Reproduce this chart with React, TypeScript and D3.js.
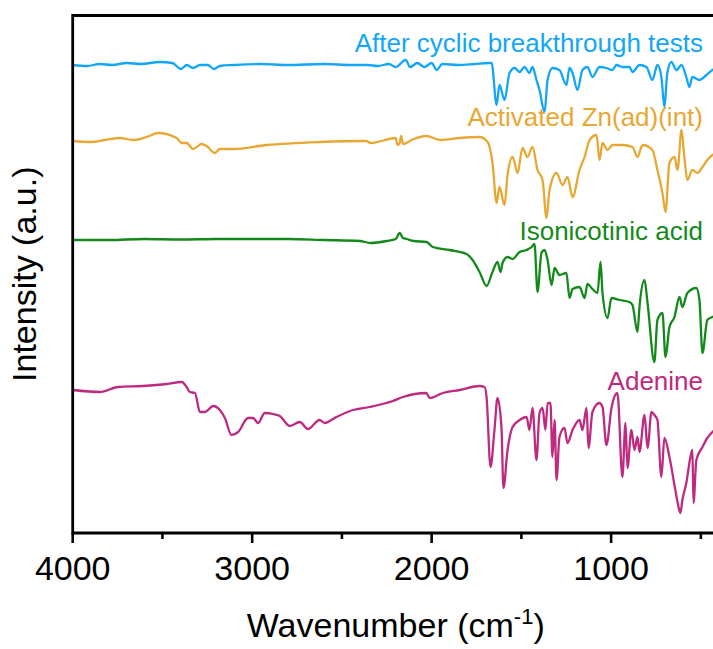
import React from "react";
import * as d3 from "d3";

// Wavenumber (cm-1) and intensity (a.u., stacked)
const afterWn = [4000, 3920, 3850, 3780, 3700, 3620, 3514, 3444, 3397, 3364, 3330, 3291, 3247, 3213, 3180, 3100, 2957, 2800, 2600, 2450, 2356, 2300, 2239, 2200, 2145, 2120, 2080, 2040, 2000, 1972, 1940, 1850, 1760, 1683, 1666, 1638, 1622, 1594, 1566, 1538, 1510, 1482, 1455, 1438, 1416, 1399, 1371, 1354, 1327, 1288, 1249, 1232, 1215, 1187, 1160, 1132, 1104, 1065, 1026, 993, 970, 937, 898, 881, 842, 803, 770, 742, 720, 703, 687, 664, 636, 608, 581, 564, 547, 508, 469, 436, 400];
const afterVal = [468, 467, 469, 468, 470, 469, 471, 470, 464, 468, 465, 468, 468, 464, 467, 468, 469, 468, 469, 468, 468, 467, 469, 466, 473, 466, 470, 466, 470, 463, 469, 468, 469, 470, 470, 428, 448, 433, 460, 465, 461, 466, 460, 466, 453, 443, 421, 453, 465, 463, 448, 465, 460, 443, 463, 466, 456, 466, 465, 463, 468, 466, 466, 461, 468, 466, 453, 468, 456, 426, 460, 471, 463, 468, 456, 446, 456, 453, 458, 463, 466];

const activatedWn = [4000, 3900, 3820, 3737, 3660, 3588, 3524, 3421, 3393, 3365, 3329, 3282, 3254, 3208, 3180, 3106, 2920, 2624, 2364, 2340, 2200, 2190, 2178, 2170, 2160, 2100, 2030, 1950, 1844, 1733, 1688, 1661, 1638, 1622, 1594, 1577, 1549, 1521, 1494, 1466, 1438, 1410, 1382, 1360, 1343, 1304, 1271, 1243, 1215, 1176, 1148, 1120, 1081, 1065, 1048, 1020, 993, 937, 881, 853, 825, 770, 742, 714, 697, 675, 647, 630, 608, 592, 575, 547, 519, 491, 464, 436, 400];
const activatedVal = [392, 391, 393, 395, 393, 396, 400, 395, 390, 390, 384, 389, 387, 380, 384, 384, 388, 391, 392, 390, 395, 388, 390, 397, 389, 394, 397, 393, 395, 396, 391, 370, 330, 346, 328, 358, 376, 360, 385, 376, 386, 363, 353, 315, 343, 360, 348, 356, 336, 363, 376, 393, 398, 373, 390, 383, 388, 388, 386, 376, 388, 383, 363, 340, 321, 370, 376, 363, 403, 376, 353, 363, 360, 366, 373, 378, 381];

const isoWn = [4000, 3800, 3600, 3400, 3200, 3000, 2800, 2600, 2400, 2340, 2250, 2200, 2178, 2160, 2139, 2100, 2028, 1994, 1899, 1805, 1772, 1733, 1694, 1661, 1633, 1616, 1605, 1577, 1549, 1510, 1471, 1443, 1427, 1410, 1388, 1371, 1354, 1332, 1315, 1288, 1249, 1232, 1215, 1176, 1148, 1132, 1104, 1076, 1059, 1048, 1020, 998, 954, 898, 881, 853, 842, 814, 797, 759, 742, 714, 697, 675, 647, 619, 603, 575, 525, 508, 491, 464, 436, 400];
const isoVal = [293, 293, 294, 293.5, 294, 294, 294, 293, 292, 290, 292, 294, 300, 295, 294, 292, 291, 286, 283, 279, 273, 261, 247, 261, 271, 261, 270, 276, 274, 281, 283, 286, 289, 241, 280, 283, 273, 248, 265, 258, 260, 235, 244, 246, 235, 249, 244, 240, 271, 240, 215, 235, 233, 231, 228, 201, 226, 253, 230, 171, 213, 220, 176, 206, 216, 236, 226, 240, 245, 233, 180, 213, 216, 218];

const adenineWn = [4000, 3848, 3748, 3609, 3475, 3393, 3365, 3347, 3319, 3291, 3264, 3217, 3180, 3152, 3115, 3078, 3023, 2995, 2967, 2930, 2883, 2846, 2791, 2735, 2689, 2624, 2596, 2531, 2438, 2345, 2216, 2160, 2030, 2011, 1937, 1844, 1733, 1705, 1694, 1672, 1650, 1633, 1611, 1600, 1577, 1549, 1510, 1471, 1455, 1438, 1416, 1399, 1382, 1366, 1354, 1338, 1327, 1315, 1304, 1288, 1260, 1243, 1215, 1176, 1160, 1137, 1126, 1104, 1065, 1048, 1026, 998, 965, 937, 920, 909, 887, 870, 853, 842, 814, 797, 775, 759, 742, 720, 703, 675, 647, 630, 614, 603, 581, 558, 547, 541, 525, 491, 464, 436, 400];
const adenineVal = [143, 141, 146, 147, 149, 151, 146, 141, 140, 121, 121, 127, 123, 115, 98, 101, 115, 115, 110, 120, 119, 117, 107, 111, 104, 113, 110, 116, 123, 126, 132, 136, 140, 135, 140, 143, 147, 146, 136, 66, 103, 135, 106, 45, 83, 106, 113, 116, 103, 125, 73, 120, 125, 103, 130, 130, 76, 113, 53, 96, 105, 90, 103, 113, 103, 125, 85, 121, 130, 126, 88, 125, 140, 56, 110, 65, 103, 83, 96, 81, 118, 85, 121, 118, 113, 56, 95, 76, 48, 31, 20, 33, 50, 76, 83, 30, 73, 86, 95, 101, 105];

const seriesNames = ["After cyclic breakthrough tests", "Activated Zn(ad)(int)", "Isonicotinic acid", "Adenine"];
const seriesColors = ["#12a6f6", "#e8a733", "#13891a", "#be2a80"];
const xTicksMajor = [4000, 3000, 2000, 1000];
const xTicksMinor = [3500, 2500, 1500, 500];

const W = 713;
const H = 649;
const FONT = "'Liberation Sans', Arial, Helvetica, sans-serif";

export default function App() {
  const left = 72.7;
  const right = 718.8;
  const top = 15.5;
  const bottom = 533;

  const x = d3.scaleLinear().domain([4000, 400]).range([left, right]);
  const y = d3.scaleLinear().domain([0, 517.5]).range([bottom, top]);

  const series = [
    { wn: afterWn, v: afterVal },
    { wn: activatedWn, v: activatedVal },
    { wn: isoWn, v: isoVal },
    { wn: adenineWn, v: adenineVal },
  ];

  const line = d3
    .line<[number, number]>()
    .x((d) => x(d[0]))
    .y((d) => y(d[1]))
    .curve(d3.curveMonotoneX);

  const labelPos = [
    { x: 703, y: 52 },
    { x: 703, y: 126 },
    { x: 703, y: 240 },
    { x: 703, y: 390 },
  ];

  return (
    <div style={{ position: "absolute", left: 0, top: 0, width: W, height: H, background: "#fff" }}>
      <svg width={W} height={H} style={{ display: "block", overflow: "hidden" }}>
        <rect x={0} y={0} width={W} height={H} fill="#fff" />
        {series.map((s, i) => (
          <path
            key={i}
            d={line(s.wn.map((w, j) => [w, s.v[j]] as [number, number])) || ""}
            fill="none"
            stroke={seriesColors[i]}
            strokeWidth={2.3}
            strokeLinejoin="round"
          />
        ))}
        {seriesNames.map((n, i) => (
          <text
            key={n}
            x={labelPos[i].x}
            y={labelPos[i].y}
            textAnchor="end"
            fontFamily={FONT}
            fontSize={26}
            fill={seriesColors[i]}
          >
            {n}
          </text>
        ))}
        {/* frame */}
        <path
          d={`M${left},${bottom}V${top}H${right}V${bottom}Z`}
          fill="none"
          stroke="#000"
          strokeWidth={2.8}
        />
        {xTicksMajor.map((t) => (
          <g key={t}>
            <line x1={x(t)} x2={x(t)} y1={bottom} y2={bottom + 10} stroke="#000" strokeWidth={2.6} />
            <text x={x(t)} y={580} textAnchor="middle" fontFamily={FONT} fontSize={34} fill="#000">
              {t}
            </text>
          </g>
        ))}
        {xTicksMinor.map((t) => (
          <line key={t} x1={x(t)} x2={x(t)} y1={bottom} y2={bottom + 6} stroke="#000" strokeWidth={2.6} />
        ))}
        <text x={(left + right) / 2} y={637} textAnchor="middle" fontFamily={FONT} fontSize={34} fill="#000">
          Wavenumber (cm
          <tspan dy={-13} fontSize={22}>-1</tspan>
          <tspan dy={13}>)</tspan>
        </text>
        <text
          transform={`translate(36,${(top + bottom) / 2}) rotate(-90)`}
          textAnchor="middle"
          fontFamily={FONT}
          fontSize={34}
          fill="#000"
        >
          Intensity (a.u.)
        </text>
      </svg>
    </div>
  );
}
